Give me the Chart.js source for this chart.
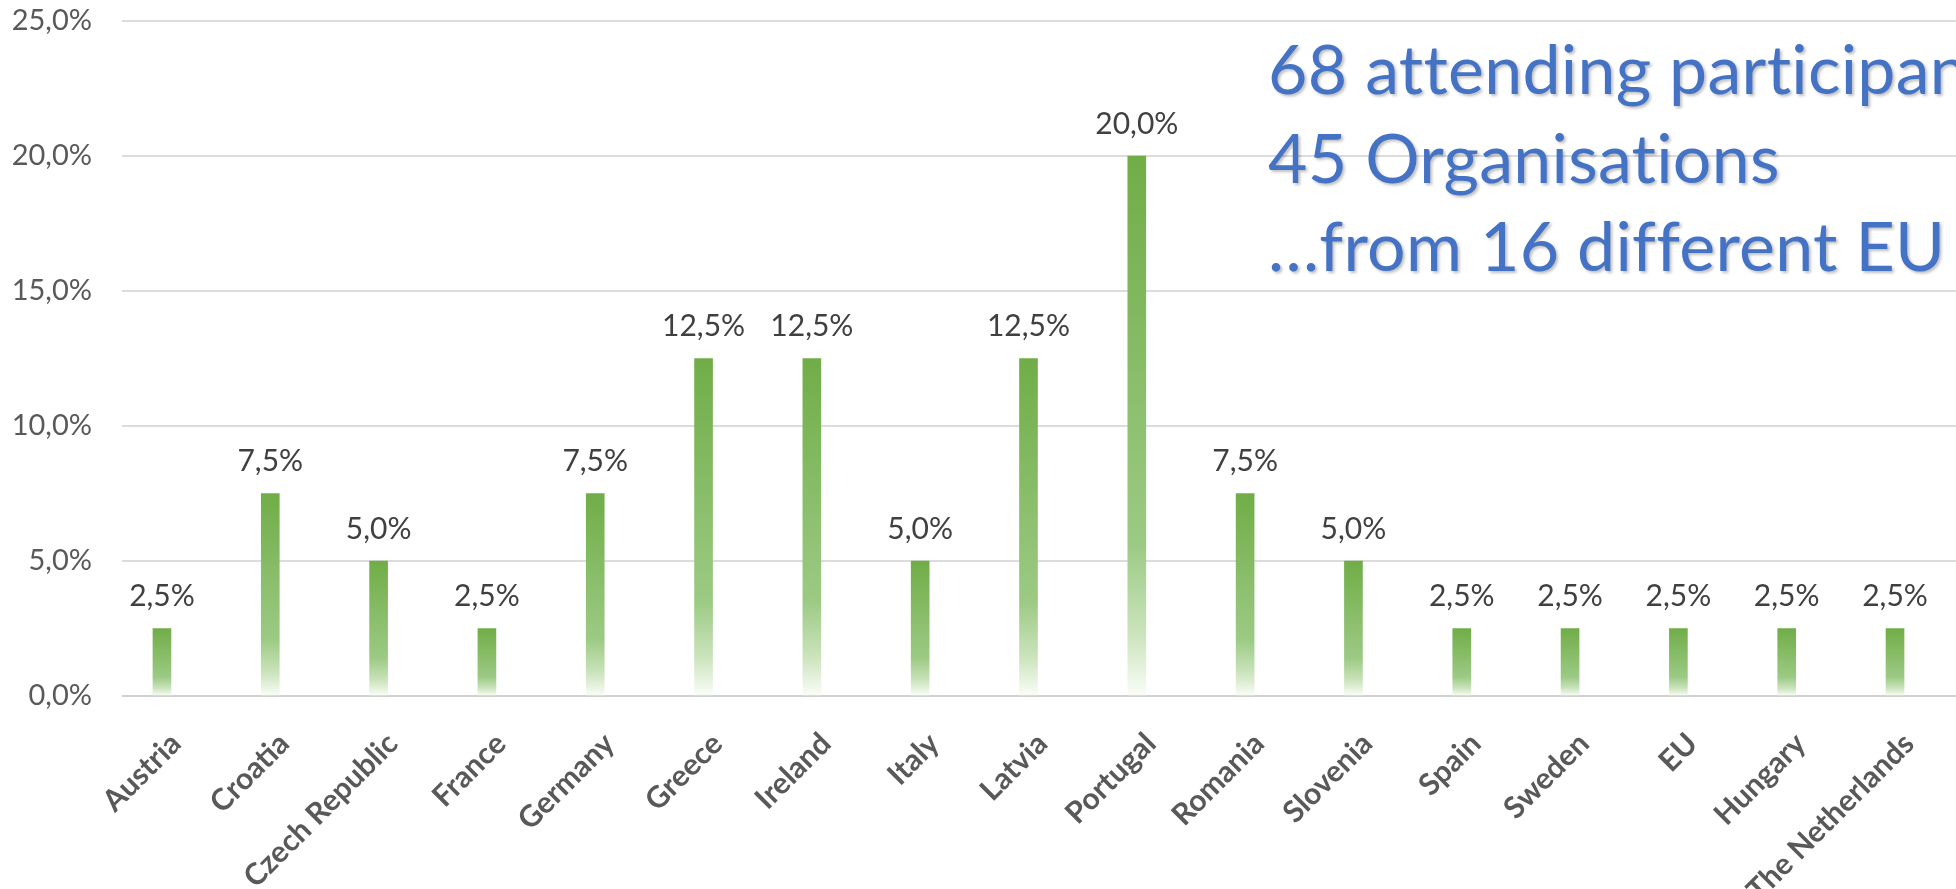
<!DOCTYPE html>
<html>
<head>
<meta charset="utf-8">
<script src="https://cdn.jsdelivr.net/npm/chart.js@4.4.1/dist/chart.umd.min.js"></script>
<style>
  html, body { margin: 0; padding: 0; background: #fff; overflow: hidden; }
  #wrap { position: relative; width: 1956px; height: 889px; }
</style>
</head>
<body>
<div id="wrap"><canvas id="chart"></canvas></div>
<script>
// Share of participants per country (%)
const countries = ['Austria', 'Croatia', 'Czech Republic', 'France', 'Germany', 'Greece', 'Ireland',
  'Italy', 'Latvia', 'Portugal', 'Romania', 'Slovenia', 'Spain', 'Sweden', 'EU', 'Hungary', 'The Netherlands'];
const shares = [2.5, 7.5, 5.0, 2.5, 7.5, 12.5, 12.5, 5.0, 12.5, 20.0, 7.5, 5.0, 2.5, 2.5, 2.5, 2.5, 2.5];
const yTicks = [0, 5, 10, 15, 20, 25];
const noteLines = ['68 attending participants', '45 Organisations', '…from 16 different EU countries'];

const fmtPct = v => v.toFixed(1).replace('.', ',') + '%';

Chart.defaults.font.family = 'Lato';

// gradient per bar: solid green on top, fading to white at the axis
function barFill(c) {
  const chart = c.chart;
  if (!chart.chartArea || c.type !== 'data') return '#70AD47';
  const y = chart.scales.y;
  const top = y.getPixelForValue(c.raw.y);
  const base = y.getPixelForValue(0);
  const g = chart.ctx.createLinearGradient(0, top, 0, base);
  g.addColorStop(0, '#70AD47');
  g.addColorStop(0.72, '#9CCA84');
  g.addColorStop(0.88, '#C9E3BA');
  g.addColorStop(1, '#FAFDF8');
  return g;
}

// value labels above the bars
const valueLabels = {
  id: 'valueLabels',
  afterDatasetsDraw(chart) {
    const ctx = chart.ctx;
    const meta = chart.getDatasetMeta(0);
    ctx.save();
    ctx.font = '30px Lato';
    ctx.fillStyle = '#404040';
    ctx.textAlign = 'center';
    ctx.textBaseline = 'bottom';
    meta.data.forEach((el, i) => {
      ctx.fillText(fmtPct(shares[i]), el.x, el.y - 17);
    });
    ctx.restore();
  }
};

// the blue text box in the upper right
const noteBox = {
  id: 'noteBox',
  afterDraw(chart) {
    const ctx = chart.ctx;
    ctx.save();
    ctx.font = '68px Lato';
    ctx.letterSpacing = '0.3px';
    ctx.fillStyle = '#4472C4';
    ctx.textAlign = 'left';
    ctx.textBaseline = 'alphabetic';
    ctx.shadowColor = 'rgba(0,0,0,0.25)';
    ctx.shadowBlur = 3;
    ctx.shadowOffsetX = 2;
    ctx.shadowOffsetY = 2;
    noteLines.forEach((t, i) => ctx.fillText(t, 1268, 94 + i * 88.5));
    ctx.restore();
  }
};

new Chart(document.getElementById('chart'), {
  type: 'bar',
  data: {
    datasets: [{
      data: shares.map((v, i) => ({ x: i, y: v })),
      backgroundColor: barFill,
      barThickness: 18,
      borderWidth: 0
    }]
  },
  options: {
    responsive: true,
    maintainAspectRatio: false,
    devicePixelRatio: 1,
    animation: false,
    layout: { padding: { top: 21, left: 0, right: 0, bottom: 0 } },
    plugins: { legend: { display: false }, tooltip: { enabled: false } },
    scales: {
      x: {
        type: 'linear',
        offset: false,
        min: -0.369,
        max: 16.563,
        grid: { display: false, drawTicks: false, offset: false },
        border: { display: false },
        afterFit: s => { s.height = 193; },
        afterBuildTicks: s => { s.ticks = countries.map((_, i) => ({ value: i })); },
        ticks: {
          autoSkip: false,
          includeBounds: false,
          minRotation: 45,
          maxRotation: 45,
          padding: 30,
          labelOffset: 14,
          color: '#595959',
          font: { size: 30, weight: 'bold' },
          callback: v => countries[v]
        }
      },
      y: {
        min: 0,
        max: 25,
        afterFit: s => { s.width = 122; },
        afterBuildTicks: s => { s.ticks = yTicks.map(v => ({ value: v })); },
        grid: {
          color: c => c.index === 0 ? '#D0D0D0' : '#DCDCDC',
          lineWidth: 2,
          drawTicks: true,
          tickLength: 30,
          tickColor: 'rgba(0,0,0,0)'
        },
        border: { display: false },
        ticks: {
          padding: 0,
          color: '#595959',
          font: { size: 29 },
          callback: v => fmtPct(v)
        }
      }
    }
  },
  plugins: [valueLabels, noteBox]
});
</script>
</body>
</html>
